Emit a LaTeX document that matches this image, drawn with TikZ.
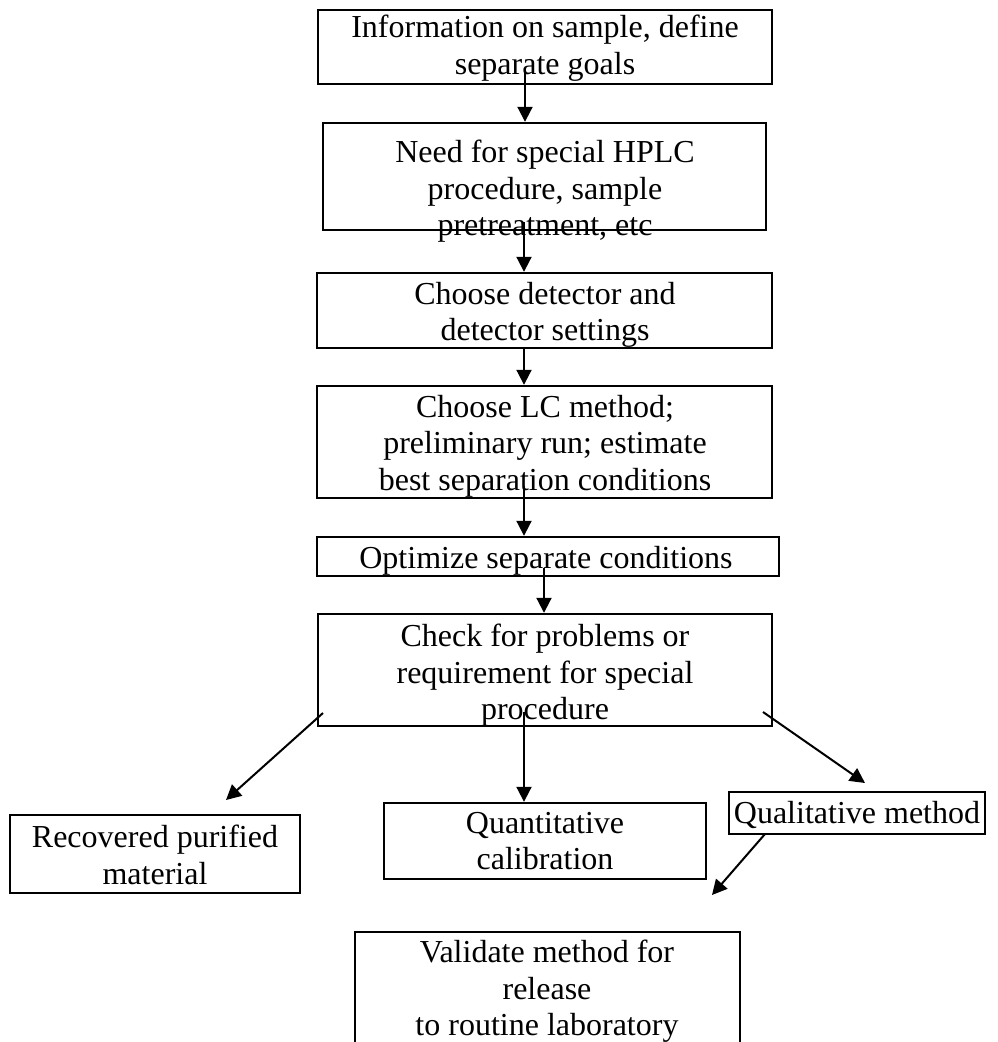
\documentclass[tikz,border=0pt]{standalone}
\usepackage{fontspec}
\setmainfont{Liberation Serif}
\usetikzlibrary{arrows.meta}
\begin{document}
\begin{tikzpicture}[x=1pt,y=-1pt,
  box/.style={draw, line width=2.4pt, inner sep=0pt, minimum width=#1},
  txt/.style={align=center, inner sep=0pt, anchor=north, font=\fontsize{32}{36.5}\selectfont},
  arr/.style={line width=2pt, -{Triangle[length=15pt,width=15pt]}}
]
\useasboundingbox (0,0) rectangle (997,1042);
% boxes
\node[box=454, minimum height=74] (b1) at (545,47) {};
\node[box=443, minimum height=107] (b2) at (544.5,176.5) {};
\node[box=455, minimum height=75] (b3) at (544.5,310.5) {};
\node[box=455, minimum height=112] (b4) at (544.5,442) {};
\node[box=462, minimum height=39] (b5) at (548,556.5) {};
\node[box=454, minimum height=112] (b6) at (545,670) {};
\node[box=290, minimum height=78] (rec) at (155,854) {};
\node[box=322, minimum height=76] (qnt) at (545,841) {};
\node[box=256, minimum height=42] (qul) at (857,813) {};
\node[box=385, minimum height=140] (val) at (547.5,1002) {};
% texts
\node[txt] (t1) at (545,15) {Information on sample, define\\separate goals};
\node[txt] (t2) at (545,140) {Need for special HPLC\\procedure, sample\\pretreatment, etc};
\node[txt] (t3) at (545,282) {Choose detector and\\detector settings};
\node[txt] (t4) at (545,395) {Choose LC method;\\preliminary run; estimate\\best separation conditions};
\node[txt] (t5) at (546,546) {Optimize separate conditions};
\node[txt] (t6) at (545,624) {Check for problems or\\requirement for special\\procedure};
\node[txt] (t7) at (155,825) {Recovered purified\\material};
\node[txt] (t8) at (545,812) {Quantitative\\calibration};
\node[txt] (t9) at (857,801) {Qualitative method};
\node[txt] (t10) at (547,940) {Validate method for\\release\\to routine laboratory};
% connector start points
\coordinate (s1) at (525,68);
\coordinate (s2) at (524,222);
\coordinate (s4) at (524,486);
\coordinate (s5) at (544,568);
\coordinate (s6) at (323,713);
\coordinate (s7) at (524,712);
\coordinate (s8) at (763,712);
\coordinate (s9) at (765,834);
% connectors
\draw[arr] (s1) -- (s1 |- b2.north);
\draw[arr] (s2) -- (s2 |- b3.north);
\draw[arr] (b3.south -| s2) -- (s2 |- b4.north);
\draw[arr] (s4) -- (s4 |- b5.north);
\draw[arr] (s5) -- (s5 |- b6.north);
\draw[arr] (s6) -- (226,800) coordinate (e6);
\draw[arr] (s7) -- (s7 |- qnt.north);
\draw[arr] (s8) -- (865,783) coordinate (e8);
\draw[arr] (s9) -- (712,895) coordinate (e9);
\end{tikzpicture}
\end{document}
